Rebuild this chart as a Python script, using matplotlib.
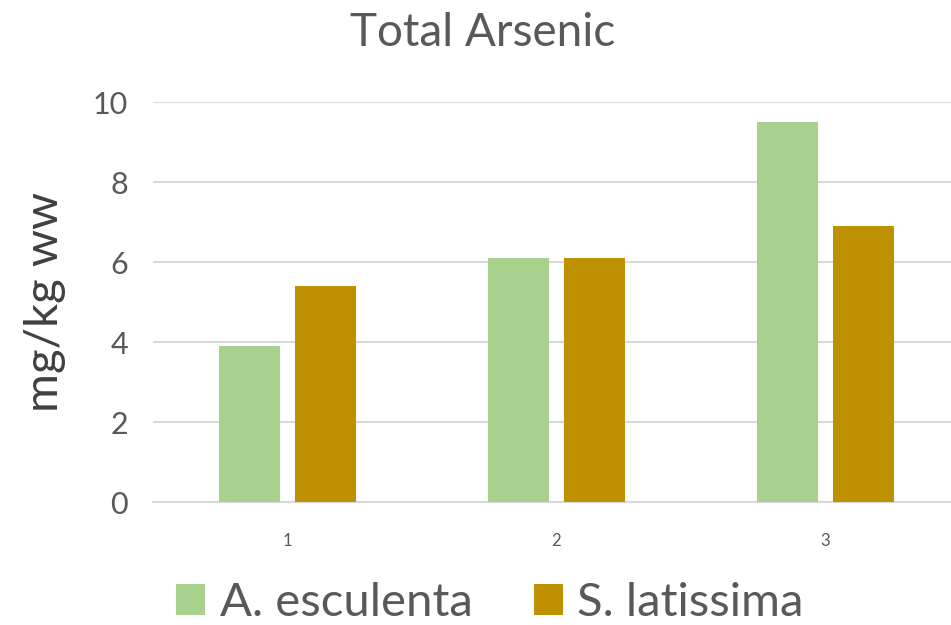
import matplotlib
matplotlib.use("Agg")
import matplotlib.pyplot as plt
from matplotlib.patches import Patch
import numpy as np

categories = ["1", "2", "3"]
series_names = ["A. esculenta", "S. latissima"]
a_esculenta = [3.9, 6.1, 9.5]
s_latissima = [5.4, 6.1, 6.9]
yticks = [0, 2, 4, 6, 8, 10]
colors = ["#A9D18E", "#BF9000"]

TXT = "#595959"
FONT = "Lato"

fig = plt.figure(figsize=(9.51, 6.25), dpi=100)
ax = fig.add_axes([153/951, 1-502/625, 807/951, 400/625])

x = np.arange(1, len(categories)+1)
w = 0.227
off = 0.143
ax.bar(x - off, a_esculenta, w, color=colors[0], zorder=3)
ax.bar(x + off, s_latissima, w, color=colors[1], zorder=3)

ax.set_xlim(0.5, 3.5)
ax.set_ylim(0, 10)
ax.set_yticks(yticks)
ax.set_yticklabels([str(t) for t in yticks], fontsize=22, color=TXT, family=FONT)
ax.set_xticks(x)
ax.set_xticklabels(categories, fontsize=12, color=TXT, family=FONT)
ax.tick_params(axis="both", length=0)
ax.tick_params(axis="y", pad=18)
ax.tick_params(axis="x", pad=22)
ax.grid(axis="y", color="#D9D9D9", linewidth=1.5, zorder=0)
for s in ["top", "right", "left"]:
    ax.spines[s].set_visible(False)
ax.spines["bottom"].set_color("#D9D9D9")
ax.spines["bottom"].set_linewidth(1.5)

fig.text(483/951, 1-33/625, "Total Arsenic", ha="center", va="center",
         fontsize=33, color=TXT, family=FONT)
fig.text(45/951, 1-302/625, "mg/kg ww", ha="center", va="center", rotation=90,
         fontsize=34, color="#404040", family=FONT)

handles = [Patch(facecolor=c, edgecolor="none") for c in colors]
fig.legend(handles, series_names, loc="center", bbox_to_anchor=(490/951, 1-603/625),
           ncol=2, frameon=False, prop={"family": FONT, "size": 34},
           labelcolor=TXT, handlelength=0.62, handleheight=0.62,
           handletextpad=0.3, columnspacing=1.3)

fig.savefig("out.png", dpi=100)
